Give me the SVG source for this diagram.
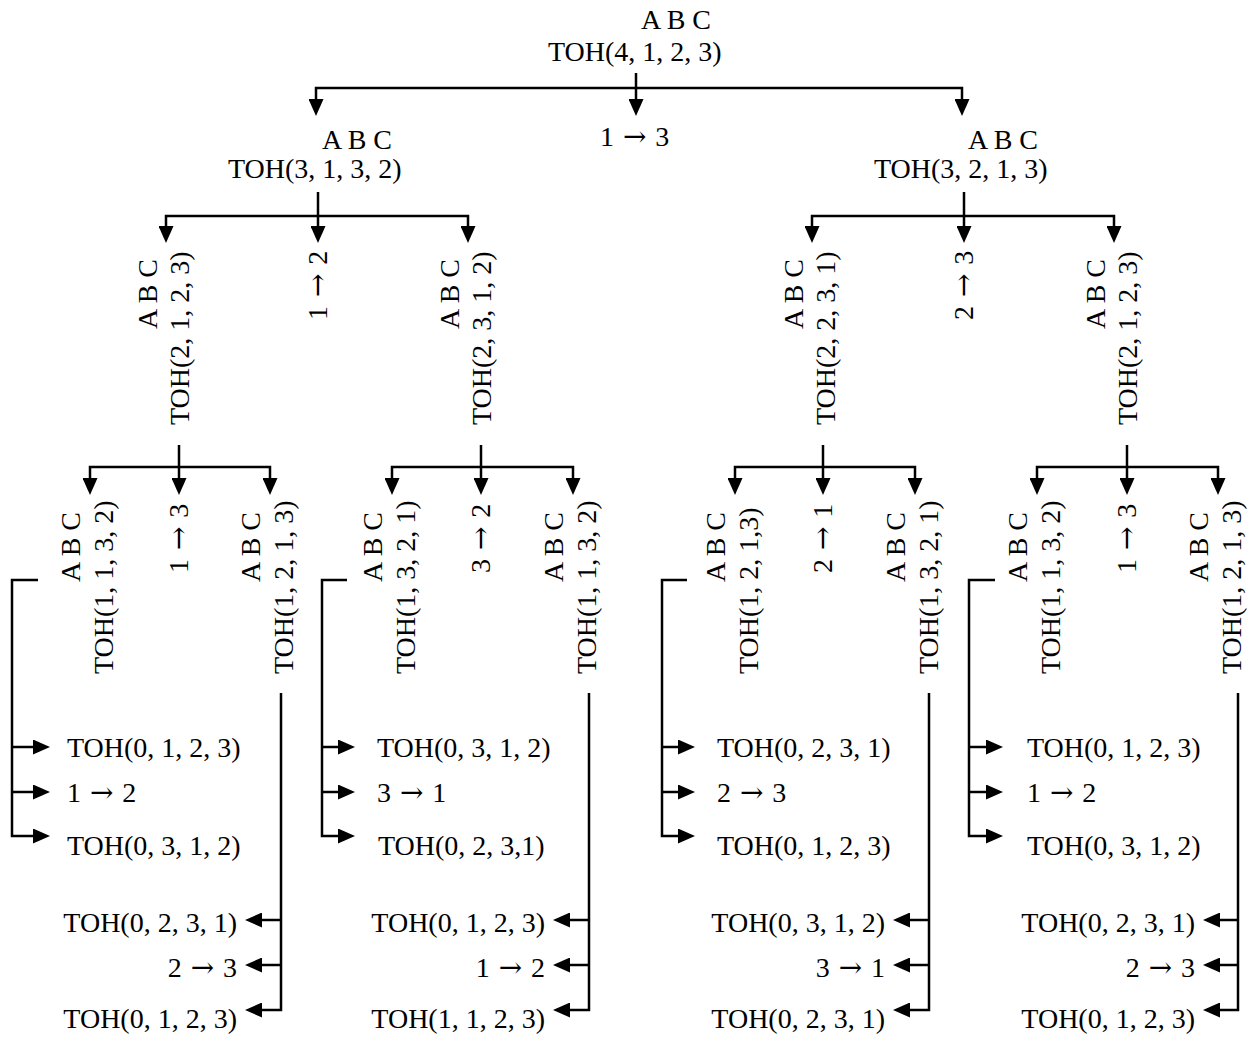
<svg xmlns="http://www.w3.org/2000/svg" width="1255" height="1037" viewBox="0 0 1255 1037">
<style>
.t{font-family:"Liberation Serif","Times New Roman",serif;font-size:28px;fill:#000}
.e{text-anchor:end}
.a{font-family:"DejaVu Serif",serif}
.c path{stroke:#000;stroke-width:2.5;fill:none;marker-end:url(#ah)}
.c path.b{marker-start:url(#ah)}
</style>
<defs>
<marker id="ah" markerUnits="userSpaceOnUse" markerWidth="17" markerHeight="15" viewBox="0 0 17 15" refX="0" refY="7.5" orient="auto-start-reverse"><path d="M0,0 L17,7.5 L0,15 z" fill="#000"/></marker>
</defs>
<rect width="1255" height="1037" fill="#fff"/>

<g id="n-root"><text class="t" x="641" y="29">A B C</text><text class="t" x="548" y="61">TOH(4, 1, 2, 3)</text></g>
<g id="m-root"><text class="t" x="600" y="146" xml:space="preserve">1<tspan class="a"> → </tspan>3</text></g>
<g id="n-l1a"><text class="t" x="322" y="149">A B C</text><text class="t" x="228" y="178">TOH(3, 1, 3, 2)</text></g>
<g id="n-l1b"><text class="t" x="968" y="149">A B C</text><text class="t" x="874" y="178">TOH(3, 2, 1, 3)</text></g>

<g id="n-l2a"><text class="t" transform="translate(157,329) rotate(-90)">A B C</text><text class="t" transform="translate(189,425) rotate(-90)">TOH(2, 1, 2, 3)</text></g>
<g id="m-l2a"><text class="t" transform="translate(327,320) rotate(-90)" xml:space="preserve">1<tspan class="a"> → </tspan>2</text></g>
<g id="n-l2b"><text class="t" transform="translate(459,329) rotate(-90)">A B C</text><text class="t" transform="translate(491,425) rotate(-90)">TOH(2, 3, 1, 2)</text></g>
<g id="n-l2c"><text class="t" transform="translate(803,329) rotate(-90)">A B C</text><text class="t" transform="translate(835,425) rotate(-90)">TOH(2, 2, 3, 1)</text></g>
<g id="m-l2b"><text class="t" transform="translate(973,320) rotate(-90)" xml:space="preserve">2<tspan class="a"> → </tspan>3</text></g>
<g id="n-l2d"><text class="t" transform="translate(1105,329) rotate(-90)">A B C</text><text class="t" transform="translate(1137,425) rotate(-90)">TOH(2, 1, 2, 3)</text></g>

<g id="n-g1a"><text class="t" transform="translate(80,582) rotate(-90)">A B C</text><text class="t" transform="translate(113,674) rotate(-90)">TOH(1, 1, 3, 2)</text></g>
<g id="m-g1"><text class="t" transform="translate(188,573) rotate(-90)" xml:space="preserve">1<tspan class="a"> → </tspan>3</text></g>
<g id="n-g1b"><text class="t" transform="translate(260,582) rotate(-90)">A B C</text><text class="t" transform="translate(293,674) rotate(-90)">TOH(1, 2, 1, 3)</text></g>
<g id="n-g2a"><text class="t" transform="translate(382,582) rotate(-90)">A B C</text><text class="t" transform="translate(415,674) rotate(-90)">TOH(1, 3, 2, 1)</text></g>
<g id="m-g2"><text class="t" transform="translate(490,573) rotate(-90)" xml:space="preserve">3<tspan class="a"> → </tspan>2</text></g>
<g id="n-g2b"><text class="t" transform="translate(563,582) rotate(-90)">A B C</text><text class="t" transform="translate(596,674) rotate(-90)">TOH(1, 1, 3, 2)</text></g>
<g id="n-g3a"><text class="t" transform="translate(725,582) rotate(-90)">A B C</text><text class="t" transform="translate(758,674) rotate(-90)">TOH(1, 2, 1,3)</text></g>
<g id="m-g3"><text class="t" transform="translate(832,573) rotate(-90)" xml:space="preserve">2<tspan class="a"> → </tspan>1</text></g>
<g id="n-g3b"><text class="t" transform="translate(905,582) rotate(-90)">A B C</text><text class="t" transform="translate(938,674) rotate(-90)">TOH(1, 3, 2, 1)</text></g>
<g id="n-g4a"><text class="t" transform="translate(1027,582) rotate(-90)">A B C</text><text class="t" transform="translate(1060,674) rotate(-90)">TOH(1, 1, 3, 2)</text></g>
<g id="m-g4"><text class="t" transform="translate(1136,573) rotate(-90)" xml:space="preserve">1<tspan class="a"> → </tspan>3</text></g>
<g id="n-g4b"><text class="t" transform="translate(1208,582) rotate(-90)">A B C</text><text class="t" transform="translate(1241,674) rotate(-90)">TOH(1, 2, 1, 3)</text></g>

<g id="leaves-g1a"><text class="t" x="67" y="757">TOH(0, 1, 2, 3)</text><text class="t" x="67" y="802" xml:space="preserve">1<tspan class="a"> → </tspan>2</text><text class="t" x="67" y="855">TOH(0, 3, 1, 2)</text></g>
<g id="leaves-g1b"><text class="t e" x="237" y="932">TOH(0, 2, 3, 1)</text><text class="t e" x="237" y="977" xml:space="preserve">2<tspan class="a"> → </tspan>3</text><text class="t e" x="237" y="1028">TOH(0, 1, 2, 3)</text></g>
<g id="leaves-g2a"><text class="t" x="377" y="757">TOH(0, 3, 1, 2)</text><text class="t" x="377" y="802" xml:space="preserve">3<tspan class="a"> → </tspan>1</text><text class="t" x="378" y="855">TOH(0, 2, 3,1)</text></g>
<g id="leaves-g2b"><text class="t e" x="545" y="932">TOH(0, 1, 2, 3)</text><text class="t e" x="545" y="977" xml:space="preserve">1<tspan class="a"> → </tspan>2</text><text class="t e" x="545" y="1028">TOH(1, 1, 2, 3)</text></g>
<g id="leaves-g3a"><text class="t" x="717" y="757">TOH(0, 2, 3, 1)</text><text class="t" x="717" y="802" xml:space="preserve">2<tspan class="a"> → </tspan>3</text><text class="t" x="717" y="855">TOH(0, 1, 2, 3)</text></g>
<g id="leaves-g3b"><text class="t e" x="885" y="932">TOH(0, 3, 1, 2)</text><text class="t e" x="885" y="977" xml:space="preserve">3<tspan class="a"> → </tspan>1</text><text class="t e" x="885" y="1028">TOH(0, 2, 3, 1)</text></g>
<g id="leaves-g4a"><text class="t" x="1027" y="757">TOH(0, 1, 2, 3)</text><text class="t" x="1027" y="802" xml:space="preserve">1<tspan class="a"> → </tspan>2</text><text class="t" x="1027" y="855">TOH(0, 3, 1, 2)</text></g>
<g id="leaves-g4b"><text class="t e" x="1195" y="932">TOH(0, 2, 3, 1)</text><text class="t e" x="1195" y="977" xml:space="preserve">2<tspan class="a"> → </tspan>3</text><text class="t e" x="1195" y="1028">TOH(0, 1, 2, 3)</text></g>

<g id="connectors" class="c">
<path class="b" d="M316,99 V88 H962 V99"/>
<path d="M636,73 V99"/>
<path class="b" d="M166,226 V216 H468 V226"/>
<path d="M318,192 V226"/>
<path class="b" d="M812,226 V216 H1114 V226"/>
<path d="M964,192 V226"/>
<path class="b" d="M90,478 V467 H270 V478"/>
<path d="M179,445 V478"/>
<path class="b" d="M392,478 V467 H573 V478"/>
<path d="M481,445 V478"/>
<path class="b" d="M735,478 V467 H915 V478"/>
<path d="M823,445 V478"/>
<path class="b" d="M1037,478 V467 H1218 V478"/>
<path d="M1127,445 V478"/>

<path d="M38,580 H12 V836 H33"/><path d="M12,747 H33"/><path d="M12,792 H33"/>
<path d="M281,693 V1010 H262"/><path d="M281,920 H262"/><path d="M281,965 H262"/>
<path d="M347,580 H322 V836 H338"/><path d="M322,747 H338"/><path d="M322,792 H338"/>
<path d="M589,693 V1010 H570"/><path d="M589,920 H570"/><path d="M589,965 H570"/>
<path d="M687,580 H662 V836 H678"/><path d="M662,747 H678"/><path d="M662,792 H678"/>
<path d="M929,693 V1010 H910"/><path d="M929,920 H910"/><path d="M929,965 H910"/>
<path d="M995,580 H969 V836 H986"/><path d="M969,747 H986"/><path d="M969,792 H986"/>
<path d="M1238,693 V1010 H1220"/><path d="M1238,920 H1220"/><path d="M1238,965 H1220"/>
</g>
</svg>
